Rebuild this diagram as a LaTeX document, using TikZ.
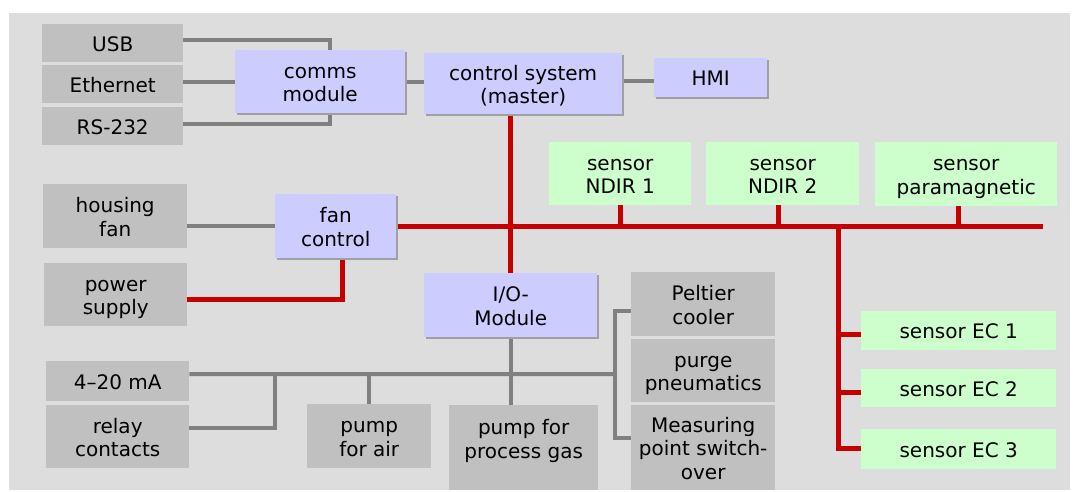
\documentclass[tikz,border=0pt]{standalone}
\usepackage{fontspec}
\setmainfont{DejaVu Sans}
\usetikzlibrary{shadows}
\pgfdeclarelayer{bgbg}
\pgfdeclarelayer{background}
\pgfsetlayers{bgbg,background,main}
\definecolor{bgc}{HTML}{DDDDDD}
\definecolor{boxgrey}{HTML}{C0C0C0}
\definecolor{lav}{HTML}{CCCCFF}
\definecolor{sgreen}{HTML}{CCFFCC}
\definecolor{shadowgrey}{HTML}{A0A0A0}
\definecolor{lgrey}{HTML}{808080}
\definecolor{lred}{HTML}{C40000}
\tikzset{
  box/.style={rectangle, inner sep=0pt, anchor=north west, align=center,
    font=\fontsize{20}{23.5}\selectfont, text depth=4pt},
  n1/.style={text height=20.5pt},
  n2/.style={text height=44pt},
  n3/.style={text height=67.5pt},
  gbox/.style={box, fill=boxgrey},
  lbox/.style={box, fill=lav, copy shadow={shadow xshift=2pt, shadow yshift=-2pt, fill=shadowgrey, draw=none}},
  sbox/.style={box, fill=sgreen},
  gline/.style={draw=lgrey, line width=4pt},
  rline/.style={draw=lred, line width=5pt},
}
\begin{document}
\begin{tikzpicture}[x=1pt,y=-1pt]
\useasboundingbox (0,0) rectangle (1075,491);
\begin{pgfonlayer}{bgbg}
\fill[white] (0,0) rectangle (1075,491);
\fill[bgc] (9,13) rectangle (1070,490);
\end{pgfonlayer}
% nodes
\node[gbox, n1, minimum width=141pt, minimum height=38pt] (usb) at (42,24) {USB};
\node[gbox, n1, minimum width=141pt, minimum height=38pt] (eth) at (42,65) {Ethernet};
\node[gbox, n1, minimum width=141pt, minimum height=38pt] (rs) at (42,107) {RS-232};
\node[lbox, n2, minimum width=170pt, minimum height=63pt] (comms) at (235,50) {comms\\module};
\node[lbox, n2, minimum width=198pt, minimum height=61pt] (ctrl) at (424,53) {control system\\(master)};
\node[lbox, n1, minimum width=113pt, minimum height=39pt] (hmi) at (654,58) {HMI};
\node[sbox, n2, minimum width=142pt, minimum height=63pt] (ndir1) at (549,142) {sensor\\NDIR 1};
\node[sbox, n2, minimum width=153pt, minimum height=63pt] (ndir2) at (706,142) {sensor\\NDIR 2};
\node[sbox, n2, minimum width=182pt, minimum height=64pt] (para) at (875,142) {sensor\\paramagnetic};
\node[gbox, n2, minimum width=144pt, minimum height=64pt] (hfan) at (43,184) {housing\\fan};
\node[gbox, n2, minimum width=143pt, minimum height=63pt] (psu) at (44,263) {power\\supply};
\node[lbox, n2, minimum width=121pt, minimum height=64pt] (fanc) at (275,194) {fan\\control};
\node[lbox, n2, minimum width=173pt, minimum height=64pt] (io) at (424,273) {I/O-\\Module};
\node[gbox, n2, minimum width=144pt, minimum height=64pt] (pelt) at (631,272) {Peltier\\cooler};
\node[gbox, n2, minimum width=144pt, minimum height=63pt] (purge) at (631,339) {purge\\pneumatics};
\node[gbox, n3, minimum width=144pt, minimum height=85pt] (meas) at (631,405) {Measuring\\point switch-\\over};
\node[gbox, text height=44pt, text depth=23pt, minimum width=149pt, minimum height=85pt] (pgas) at (449,405) {pump for\\process gas};
\node[gbox, n2, minimum width=124pt, minimum height=64pt] (pair) at (307,404) {pump\\for air};
\node[gbox, n1, minimum width=143pt, minimum height=40pt] (ma) at (46,361) {4–20 mA};
\node[gbox, n2, minimum width=143pt, minimum height=63pt] (relay) at (46,405) {relay\\contacts};
\node[sbox, n1, minimum width=195pt, minimum height=39pt] (ec1) at (861,311) {sensor EC 1};
\node[sbox, n1, minimum width=195pt, minimum height=38pt] (ec2) at (861,369) {sensor EC 2};
\node[sbox, n1, minimum width=195pt, minimum height=40pt] (ec3) at (861,429) {sensor EC 3};
% junctions
\coordinate (jR) at (615,374);
\coordinate (jA) at (275,374);
\coordinate (busE) at (1043,227);
\coordinate (branch) at (838,227);
\begin{pgfonlayer}{background}
% grey connectors
\draw[gline] ([yshift=3pt]usb.east) -| ([xshift=10pt]comms.north);
\draw[gline] (comms.west -| eth.east) -- (comms.west);
\draw[gline] ([yshift=2pt]rs.east) -| ([xshift=10pt]comms.south);
\draw[gline] (comms.east) -- (comms.east -| ctrl.west);
\draw[gline] ([yshift=2.5pt]ctrl.east) -- ([yshift=2.5pt]ctrl.east -| hmi.west);
\draw[gline] (fanc.west -| hfan.east) -- (fanc.west);
\draw[gline] ([yshift=7pt]ma.east) -- (jR);
\draw[gline] ([yshift=-7pt]pelt.west) -| (jR) |- ([yshift=9.5pt]meas.west);
\draw[gline] ([yshift=8.5pt]relay.east) -| (jA);
\draw[gline] (pair.north) -- (pair.north |- jR);
\draw[gline] (io.south) -- (io.south |- pgas.north);
% red connectors
\draw[rline] (io.north) -- (io.north |- ctrl.south);
\draw[rline] (fanc.east) -- (fanc.east -| busE);
\draw[rline] (branch) |- ([yshift=1pt]ec3.west);
\draw[rline] ([yshift=-4pt]ec1.west -| branch) -- ([yshift=-4pt]ec1.west);
\draw[rline] ([yshift=-4pt]ec2.west -| branch) -- ([yshift=-4pt]ec2.west);
\draw[rline] (ndir1.south) -- (ndir1.south |- branch);
\draw[rline] ([xshift=-4pt]ndir2.south) -- ([xshift=-4pt]ndir2.south |- branch);
\draw[rline] ([xshift=-8pt]para.south) -- ([xshift=-8pt]para.south |- branch);
\draw[rline] ([yshift=-4.5pt]psu.east) -| ([xshift=6.5pt]fanc.south);
\end{pgfonlayer}
\end{tikzpicture}
\end{document}
